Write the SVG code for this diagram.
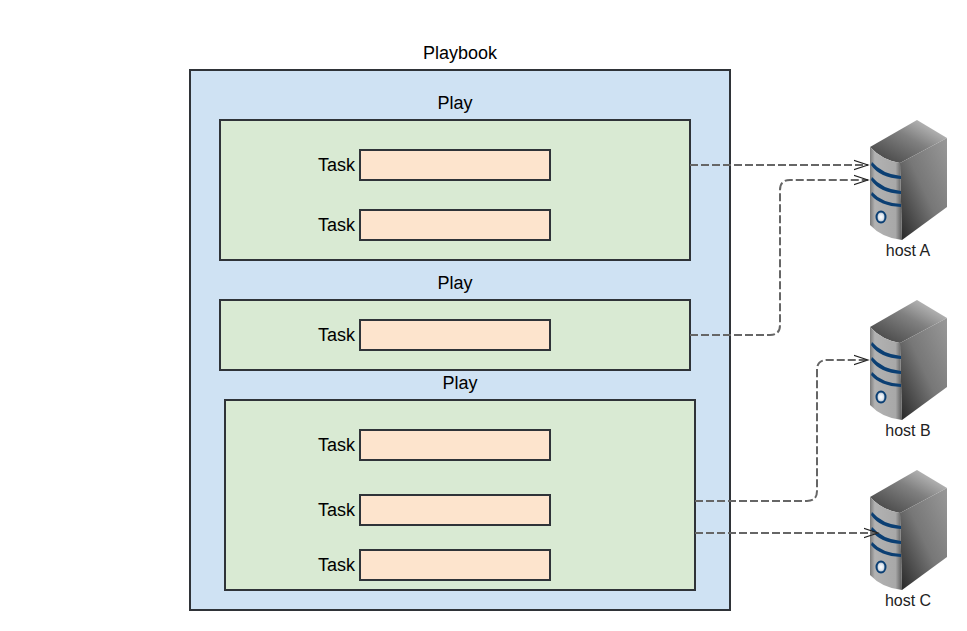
<svg xmlns="http://www.w3.org/2000/svg" xmlns:xlink="http://www.w3.org/1999/xlink" width="967" height="631" viewBox="0 0 967 631">
<style>
text{font-family:"Liberation Sans",Arial,sans-serif;font-size:18px;fill:#000}
.c{text-anchor:middle}
.r{text-anchor:end}
.hl{font-size:16px;fill:#222;text-anchor:middle}
.pb{fill:#cfe2f3;stroke:#2f3338;stroke-width:2}
.pl{fill:#d9ead3;stroke:#2f3338;stroke-width:2}
.tk{fill:#fde4cd;stroke:#2f3338;stroke-width:2}
.cn{fill:none;stroke:#666;stroke-width:2;stroke-dasharray:8 3}
.band{fill:#0b3f73;stroke:none}
</style>
<defs>
<marker id="a" markerUnits="userSpaceOnUse" markerWidth="16" markerHeight="14" refX="14.5" refY="7" orient="auto"><path d="M0 2.2L14.5 7L0 11.8" fill="none" stroke="#222" stroke-width="1.1"/></marker>
<linearGradient id="gt" x1="0" y1="1" x2="1" y2="0"><stop offset="0" stop-color="#3c3c3c"/><stop offset=".55" stop-color="#808080"/><stop offset="1" stop-color="#d6d6d6"/></linearGradient>
<linearGradient id="gs" x1="0" y1="1" x2="1" y2="0"><stop offset="0" stop-color="#262626"/><stop offset=".5" stop-color="#777"/><stop offset="1" stop-color="#999"/></linearGradient>
<linearGradient id="gf" x1="0" y1="0" x2="1" y2="0"><stop offset="0" stop-color="#7a7a7a"/><stop offset=".15" stop-color="#b2b2b2"/><stop offset=".8" stop-color="#a8a8a8"/><stop offset="1" stop-color="#5a5a5a"/></linearGradient>
<radialGradient id="gl"><stop offset="0" stop-color="#fff"/><stop offset=".55" stop-color="#dfe6ee"/><stop offset="1" stop-color="#8fa6bd"/></radialGradient>
<g id="srv">
<path d="M870 147L917 120L947 138L900 163Q882 160 870 147Z" fill="url(#gt)"/>
<path d="M900 163L947 138V207L902 240Z" fill="url(#gs)"/>
<path d="M870 147Q882 160 900 163L902 240Q882 238 870 225Z" fill="url(#gf)"/>
<path class="band" d="M872 162Q882 174 901 176V179Q880 178 871 165Z"/>
<path class="band" d="M872 177Q882 189 901 191V194Q880 193 871 180Z"/>
<path class="band" d="M872 192Q882 203 901 204V207Q880 206 871 195Z"/>
<ellipse cx="881" cy="217" rx="4.5" ry="5.5" fill="url(#gl)" stroke="#0b3f73" stroke-width="2"/>
</g>
</defs>
<g id="playbook"><rect class="pb" x="190" y="70" width="540" height="540"/><text class="c" x="460" y="59">Playbook</text></g>
<g id="play1"><rect class="pl" x="220" y="120" width="470" height="140"/><text class="c" x="455" y="109">Play</text></g>
<g id="task1"><rect class="tk" x="360" y="150" width="190" height="30"/><text class="r" x="355" y="171">Task</text></g>
<g id="task2"><rect class="tk" x="360" y="210" width="190" height="30"/><text class="r" x="355" y="231">Task</text></g>
<g id="play2"><rect class="pl" x="220" y="300" width="470" height="70"/><text class="c" x="455" y="289">Play</text></g>
<g id="task3"><rect class="tk" x="360" y="320" width="190" height="30"/><text class="r" x="355" y="341">Task</text></g>
<g id="play3"><rect class="pl" x="225" y="400" width="470" height="190"/><text class="c" x="460" y="389">Play</text></g>
<g id="task4"><rect class="tk" x="360" y="430" width="190" height="30"/><text class="r" x="355" y="451">Task</text></g>
<g id="task5"><rect class="tk" x="360" y="495" width="190" height="30"/><text class="r" x="355" y="516">Task</text></g>
<g id="task6"><rect class="tk" x="360" y="550" width="190" height="30"/><text class="r" x="355" y="571">Task</text></g>
<g id="hostA"><use xlink:href="#srv" href="#srv"/><text class="hl" x="908" y="256">host A</text></g>
<g id="hostB"><use xlink:href="#srv" href="#srv" y="180"/><text class="hl" x="908" y="436">host B</text></g>
<g id="hostC"><use xlink:href="#srv" href="#srv" y="350"/><text class="hl" x="908" y="606">host C</text></g>
<g id="connectors">
<path class="cn" marker-end="url(#a)" d="M690 165H868"/>
<path class="cn" marker-end="url(#a)" d="M690 335H770Q780 335 780 325V190Q780 180 790 180H868"/>
<path class="cn" marker-end="url(#a)" d="M695 501H807Q817 501 817 491V370Q817 360 827 360H868"/>
<path class="cn" marker-end="url(#a)" d="M695 533H878"/>
</g>
</svg>
